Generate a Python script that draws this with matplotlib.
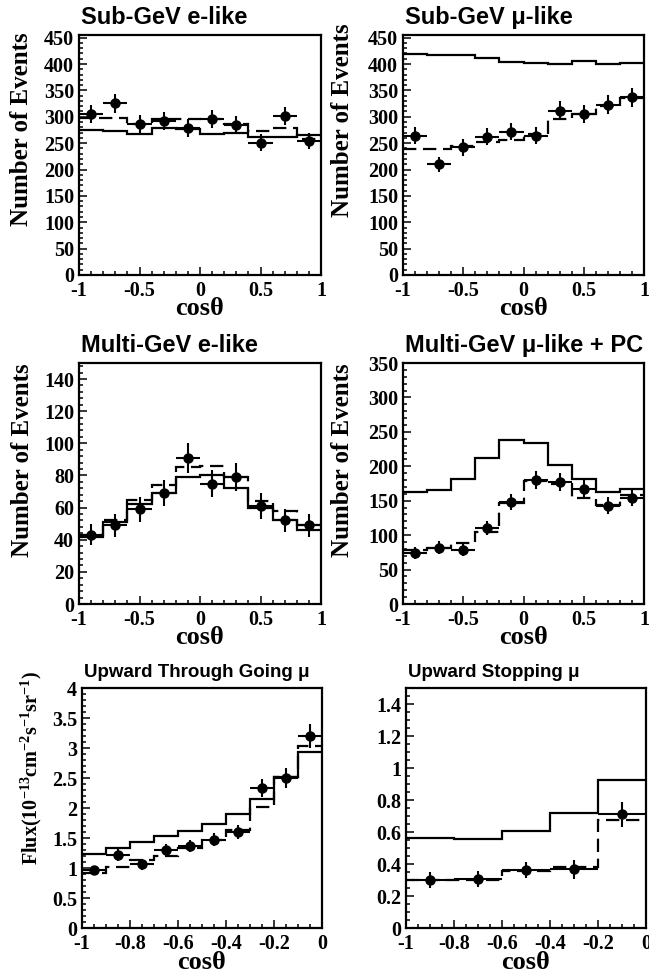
import numpy as np
import matplotlib
matplotlib.use('Agg')
import matplotlib.pyplot as plt
from matplotlib.ticker import MultipleLocator, AutoMinorLocator, FuncFormatter

plt.rcParams['font.family'] = ['Liberation Serif', 'DejaVu Serif']
plt.rcParams['font.weight'] = 'bold'
plt.rcParams['axes.labelweight'] = 'bold'
plt.rcParams['axes.unicode_minus'] = False
plt.rcParams['mathtext.fontset'] = 'custom'
plt.rcParams['mathtext.rm'] = 'Liberation Serif:bold'
plt.rcParams['mathtext.it'] = 'Liberation Serif:bold:italic'
plt.rcParams['mathtext.bf'] = 'Liberation Serif:bold'

SANS = ['Liberation Sans', 'DejaVu Sans']

# bin edges in cos(theta)
edges_full = np.linspace(-1, 1, 11)
edges_thru = np.linspace(-1, 0, 11)
edges_stop = np.linspace(-1, 0, 6)

# Sub-GeV e-like
subgev_e_data = [306, 326, 286, 292, 279, 295, 284, 251, 301, 254]
subgev_e_err = [17, 18, 17, 17, 17, 17, 17, 16, 17, 16]
subgev_e_noosc = [274, 273, 268, 279, 276, 268, 270, 261, 262, 266]
subgev_e_fit = [298, 298, 286, 296, 295, 296, 286, 273, 278, 258]

# Sub-GeV mu-like
subgev_mu_data = [264, 210, 242, 262, 272, 264, 311, 305, 323, 337]
subgev_mu_err = [16, 14, 16, 16, 16, 16, 18, 17, 18, 18]
subgev_mu_noosc = [419, 417, 417, 411, 403, 401, 400, 406, 400, 401]
subgev_mu_fit = [239, 239, 244, 252, 255, 268, 295, 306, 320, 336]

# Multi-GeV e-like
multigev_e_data = [43, 49, 59, 69, 91, 75, 79, 61, 52, 49]
multigev_e_err = [6.5, 7, 7.7, 8.3, 9.5, 8.7, 8.9, 7.8, 7.2, 7]
multigev_e_noosc = [41.5, 51, 62, 69, 79, 80, 72, 60, 52, 46]
multigev_e_fit = [43, 52, 65, 74, 85, 86, 79, 64, 58, 49]

# Multi-GeV mu-like + PC
multigev_mu_data = [74, 82, 79, 110, 148, 180, 177, 167, 143, 154]
multigev_mu_err = [8.6, 9, 8.9, 10.5, 12, 13.4, 13.3, 13, 12, 12.4]
multigev_mu_noosc = [163, 165, 182, 212, 238, 234, 202, 181, 163, 167]
multigev_mu_fit = [79, 81, 89, 104, 146, 179, 175, 154, 144, 158]

# Upward through-going mu
thru_data = [0.96, 1.22, 1.06, 1.30, 1.37, 1.47, 1.60, 2.34, 2.50, 3.20]
thru_err = [0.08, 0.10, 0.09, 0.10, 0.10, 0.11, 0.11, 0.15, 0.16, 0.20]
thru_noosc = [1.23, 1.34, 1.44, 1.53, 1.62, 1.74, 1.90, 2.15, 2.52, 2.94]
thru_fit = [0.92, 1.02, 1.13, 1.20, 1.34, 1.47, 1.64, 2.01, 2.52, 3.04]

# Upward stopping mu
stop_data = [0.30, 0.305, 0.36, 0.366, 0.71]
stop_err = [0.05, 0.05, 0.05, 0.06, 0.08]
stop_noosc = [0.564, 0.554, 0.606, 0.719, 0.928]
stop_fit = [0.30, 0.30, 0.355, 0.38, 0.677]

W, H = 649, 973
fig = plt.figure(figsize=(W / 100, H / 100), dpi=100)

tick_fmt = FuncFormatter(lambda v, p: '%g' % round(v, 6))


def make_axes(left, top, right, bottom):
    return fig.add_axes([left / W, 1 - bottom / H, (right - left) / W, (bottom - top) / H])


def draw_panel(ax, edges, data, err, noosc, fit, ylim, ymaj, ymin_div, xmaj, xmin_div,
               title, title_size, ylabel=None, ylabel_size=18, ylabel_x=-0.24, ylabel_top=1.0,
               xlabel_y=-0.09):
    centers = 0.5 * (edges[:-1] + edges[1:])
    half = 0.5 * (edges[1] - edges[0])
    ax.stairs(noosc, edges, baseline=None, color='black', lw=1.6)
    ax.stairs(fit, edges, baseline=None, color='black', lw=1.6, linestyle=(0, (6, 3)))
    ax.errorbar(centers, data, yerr=err, xerr=half, fmt='o', color='black', ms=6.5,
                elinewidth=1.5, capsize=0)
    ax.set_xlim(edges[0], edges[-1])
    ax.set_ylim(0, ylim)
    ax.xaxis.set_major_locator(MultipleLocator(xmaj))
    ax.xaxis.set_minor_locator(AutoMinorLocator(xmin_div))
    ax.yaxis.set_major_locator(MultipleLocator(ymaj))
    ax.yaxis.set_minor_locator(AutoMinorLocator(ymin_div))
    ax.xaxis.set_major_formatter(tick_fmt)
    ax.yaxis.set_major_formatter(tick_fmt)
    ax.tick_params(which='both', direction='in', top=False, right=False, width=1.1)
    ax.tick_params(which='major', length=6, labelsize=14.5)
    ax.tick_params(which='minor', length=3.2)
    ax.tick_params(axis='x', pad=4.5)
    ax.tick_params(axis='y', pad=3.5)
    for s in ax.spines.values():
        s.set_linewidth(1.6)
    ax.text(0.01, 1.045, title, transform=ax.transAxes, family=SANS, weight='bold',
            fontsize=title_size, ha='left', va='baseline')
    ax.set_xlabel('cosθ', fontsize=19, va='top')
    ax.xaxis.set_label_coords(0.5, xlabel_y)
    if ylabel:
        ax.set_ylabel(ylabel, fontsize=ylabel_size, ha='right', va='center')
        ax.yaxis.set_label_coords(ylabel_x, ylabel_top)


ax1 = make_axes(79, 35, 321, 275)
draw_panel(ax1, edges_full, subgev_e_data, subgev_e_err, subgev_e_noosc, subgev_e_fit,
           455, 50, 5, 0.5, 5, 'Sub-GeV e-like', 17, 'Number of Events', ylabel_x=-0.236, ylabel_top=1.01)

ax2 = make_axes(403, 35, 644, 275)
draw_panel(ax2, edges_full, subgev_mu_data, subgev_mu_err, subgev_mu_noosc, subgev_mu_fit,
           455, 50, 5, 0.5, 5, 'Sub-GeV μ-like', 17, 'Number of Events', ylabel_x=-0.25, ylabel_top=1.05)

ax3 = make_axes(79, 363, 321, 604)
draw_panel(ax3, edges_full, multigev_e_data, multigev_e_err, multigev_e_noosc, multigev_e_fit,
           150, 20, 5, 0.5, 5, 'Multi-GeV e-like', 17, 'Number of Events', ylabel_x=-0.232, ylabel_top=1.0)

ax4 = make_axes(403, 363, 644, 604)
draw_panel(ax4, edges_full, multigev_mu_data, multigev_mu_err, multigev_mu_noosc, multigev_mu_fit,
           350, 50, 5, 0.5, 5, 'Multi-GeV μ-like + PC', 17, 'Number of Events', ylabel_x=-0.25, ylabel_top=1.0)

ax5 = make_axes(82, 688, 322, 928)
draw_panel(ax5, edges_thru, thru_data, thru_err, thru_noosc, thru_fit,
           4, 0.5, 5, 0.2, 4, 'Upward Through Going μ', 13.5,
           r'Flux(10$^{-13}$cm$^{-2}$s$^{-1}$sr$^{-1}$)', ylabel_size=14.5, ylabel_x=-0.21, ylabel_top=1.07,
           xlabel_y=-0.094)

ax6 = make_axes(406, 688, 646, 928)
draw_panel(ax6, edges_stop, stop_data, stop_err, stop_noosc, stop_fit,
           1.5, 0.2, 4, 0.2, 4, 'Upward Stopping μ', 13.5, xlabel_y=-0.094)

fig.savefig('out.png', dpi=100)
